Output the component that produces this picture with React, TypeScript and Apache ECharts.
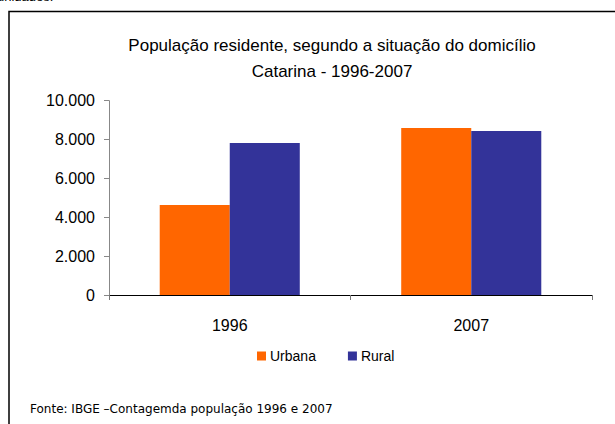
import React, { useEffect, useRef } from "react";
import * as echarts from "echarts";

const categories = ["1996", "2007"];
const urbana = [4630, 8600];
const rural = [7820, 8440];
const seriesNames = ["Urbana", "Rural"];
const titleLines = [
  "População residente, segundo a situação do domicílio",
  "Catarina - 1996-2007",
];
const footer = "Fonte: IBGE –Contagemda população 1996 e 2007";

function fmt(v: number): string {
  return String(v).replace(/\B(?=(\d{3})+(?!\d))/g, ".");
}

export default function App() {
  const ref = useRef<HTMLDivElement>(null);
  useEffect(() => {
    if (!ref.current) return;
    const chart = echarts.init(ref.current, null, { renderer: "svg" });
    chart.setOption({
      animation: false,
      backgroundColor: "#fff",
      title: {
        text: titleLines.join("\n"),
        left: 327,
        textAlign: "center",
        top: 27,
        textStyle: {
          fontFamily: "Liberation Sans",
          fontSize: 17,
          fontWeight: "normal",
          color: "#000",
          lineHeight: 26,
        },
      },
      legend: {
        data: seriesNames,
        left: 252,
        top: 344,
        itemWidth: 9,
        itemHeight: 9,
        itemGap: 32,
        icon: "rect",
        textStyle: {
          fontFamily: "Liberation Sans",
          fontSize: 14,
          color: "#000",
          padding: [0, 0, 0, -1],
        },
      },
      grid: { left: 109, right: 23, top: 100.7, bottom: 129, containLabel: false },
      xAxis: {
        type: "category",
        data: categories,
        axisLine: { lineStyle: { color: "#000", width: 1 } },
        axisTick: { show: true, length: 5, lineStyle: { color: "#777" } },
        axisLabel: {
          fontFamily: "Liberation Sans",
          fontSize: 16,
          color: "#000",
          margin: 22,
        },
      },
      yAxis: {
        type: "value",
        min: 0,
        max: 10000,
        interval: 2000,
        splitLine: { show: false },
        axisLine: { show: true, lineStyle: { color: "#888", width: 1 } },
        axisTick: { show: true, length: 5, lineStyle: { color: "#888" } },
        axisLabel: {
          fontFamily: "Liberation Sans",
          fontSize: 16,
          color: "#000",
          margin: 14,
          formatter: (v: number) => fmt(v),
        },
      },
      series: [
        {
          name: seriesNames[0],
          type: "bar",
          data: urbana,
          itemStyle: { color: "#FF6600" },
          barGap: "0%",
          barCategoryGap: "42%",
        },
        {
          name: seriesNames[1],
          type: "bar",
          data: rural,
          itemStyle: { color: "#333399" },
          barGap: "0%",
          barCategoryGap: "42%",
        },
      ],
      graphic: [
        {
          type: "rect",
          shape: { x: 9, y: 11.5, width: 700, height: 600 },
          style: { fill: "none", stroke: "#000", lineWidth: 1.5 },
          silent: true,
        },
        {
          type: "text",
          x: -3,
          y: -10,
          style: {
            text: "unidades.",
            fontFamily: "Liberation Sans",
            fontSize: 13,
            fill: "#000",
          },
        },
        {
          type: "text",
          x: 30,
          y: 409,
          style: {
            text: footer,
            fontFamily: "DejaVu Sans",
            fontSize: 12,
            fill: "#000",
            verticalAlign: "middle",
          },
        },
      ],
    });
    return () => chart.dispose();
  }, []);
  return (
    <div
      ref={ref}
      style={{ position: "fixed", left: 0, top: 0, width: 615, height: 424 }}
    />
  );
}
